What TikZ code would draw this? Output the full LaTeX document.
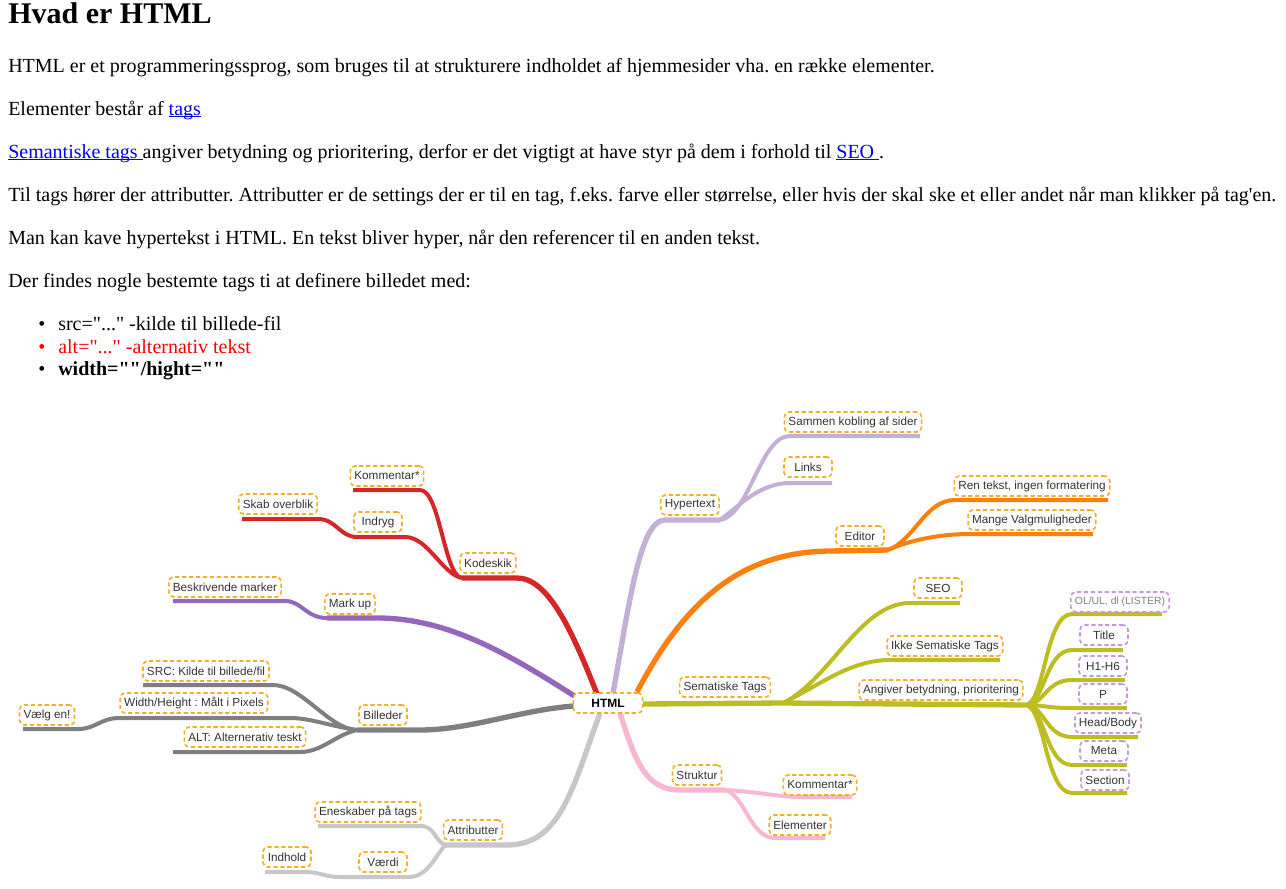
\documentclass[tikz,border=0pt]{standalone}
\usepackage{fontspec}
\setmainfont{Liberation Serif}[Ligatures=TeXOff]
\newfontfamily\mmfont{Liberation Sans}[Ligatures=TeXOff]
\definecolor{linkblue}{HTML}{0000EE}
\definecolor{altred}{HTML}{FF0000}
\definecolor{cRed}{HTML}{D62728}
\definecolor{cPurple}{HTML}{9467BD}
\definecolor{cLav}{HTML}{C5B0D5}
\definecolor{cOrange}{HTML}{FF7F0E}
\definecolor{cOlive}{HTML}{BCBD22}
\definecolor{cPink}{HTML}{F7B6D2}
\definecolor{cLGrey}{HTML}{C7C7C7}
\definecolor{cDGrey}{HTML}{7F7F7F}
\definecolor{gold}{HTML}{F0B028}
\definecolor{lilac}{HTML}{C49AD6}
\definecolor{lbltext}{HTML}{333333}
\newcommand\ulink[1]{\textcolor{linkblue}{\setbox0\hbox{#1}\rlap{\rule[-1.7pt]{\wd0}{0.8pt}}\box0}}
\begin{document}
\frenchspacing
\begin{tikzpicture}[x=0.75pt,y=-0.75pt,
  txt/.style={anchor=base west, inner sep=0pt, font=\fontsize{15}{18}\selectfont},
  lbl/.style={draw=gold, dash pattern=on 3.2pt off 2pt, line width=1.2pt, rounded corners=3.5pt,
    inner xsep=3pt, inner ysep=0pt, minimum height=15pt, minimum width=36pt,
    font=\mmfont\fontsize{8.8}{10}\selectfont, text=lbltext},
  plbl/.style={lbl, draw=lilac},
  mmain/.style={line width=4pt},
  mm/.style={line width=3pt}]
\useasboundingbox (0,0) rectangle (1286,889);

% ---------- page text ----------
\node[anchor=base west, inner sep=0pt, font=\bfseries\fontsize{22.5}{27}\selectfont] (h1) at (8,23) {Hvad er HTML};
\node[txt] (p1) at (8,72) {HTML er et programmeringssprog, som bruges til at strukturere indholdet af hjemmesider vha. en række elementer.};
\node[txt] (p2) at (8,115) {Elementer består af \ulink{tags}};
\node[txt] (p3) at (8,158) {\ulink{Semantiske tags }angiver betydning og prioritering, derfor er det vigtigt at have styr på dem i forhold til \ulink{SEO }.};
\node[txt] (p4) at (8,201) {Til tags hører der attributter. Attributter er de settings der er til en tag, f.eks. farve eller størrelse, eller hvis der skal ske et eller andet når man klikker på tag'en.};
\node[txt] (p5) at (8,244) {Man kan kave hypertekst i HTML. En tekst bliver hyper, når den referencer til en anden tekst.};
\node[txt] (p6) at (8,287) {Der findes nogle bestemte tags ti at definere billedet med:};
\node[anchor=base, inner sep=0pt, font=\fontsize{15}{18}\selectfont] (b1) at (42,330) {•};
\node[txt] (l1) at (58,330) {src="..." -kilde til billede-fil};
\node[anchor=base, inner sep=0pt, font=\fontsize{15}{18}\selectfont, text=altred] (b2) at (42,353) {•};
\node[txt, text=altred] (l2) at (58,353) {alt="..." -alternativ tekst};
\node[anchor=base, inner sep=0pt, font=\fontsize{15}{18}\selectfont] (b3) at (42,375) {•};
\node[txt, font=\bfseries\fontsize{15}{18}\selectfont] (l3) at (58,375) {width=""/hight=""};

% ---------- mind map: branch points ----------
\coordinate (kod) at (462,578);
\coordinate (ind) at (357,537);
\coordinate (mku) at (327,618);
\coordinate (bil) at (357,730);
\coordinate (wh) at (120,718);
\coordinate (att) at (445,845);
\coordinate (vae) at (340,877);
\coordinate (str) at (725,790);
\coordinate (hyp) at (720,520);
\coordinate (edi) at (888,550);
\coordinate (sem) at (783,703);
\coordinate (ang) at (1025,705);

% red: Kodeskik
\draw[mmain,cRed] (597,694) .. controls (572,630) and (548,578) .. (517,578) -- (kod);
\draw[mm,cRed] (kod) .. controls (444,576) and (440,490) .. (420,490) -- (353,490);
\draw[mm,cRed] (kod) .. controls (442,574) and (428,537) .. (405,537) -- (ind);
\draw[mm,cRed] (ind) .. controls (340,537) and (336,519) .. (318,519) -- (242,519);
% purple: Mark up
\draw[mmain,cPurple] (576,697) .. controls (510,655) and (450,619) .. (380,618) -- (mku);
\draw[mm,cPurple] (mku) .. controls (306,618) and (302,601) .. (285,601) -- (173,601);
% dark grey: Billeder
\draw[mmain,cDGrey] (574,706) .. controls (520,710) and (470,730) .. (420,730) -- (bil);
\draw[mm,cDGrey] (bil) .. controls (330,730) and (302,685) .. (273,685) -- (143,685);
\draw[mm,cDGrey] (bil) .. controls (330,726) and (310,718) .. (290,718) -- (wh);
\draw[mm,cDGrey] (wh) .. controls (100,718) and (96,729) .. (78,729) -- (23,729);
\draw[mm,cDGrey] (bil) .. controls (335,735) and (322,752) .. (300,752) -- (173,752);
% light grey: Attributter
\draw[mmain,cLGrey] (600,713) .. controls (572,790) and (560,845) .. (507,845) -- (att);
\draw[mm,cLGrey] (att) .. controls (434,840) and (435,826) .. (420,826) -- (318,826);
\draw[mm,cLGrey] (att) .. controls (432,862) and (426,877) .. (408,877) -- (vae);
\draw[mm,cLGrey] (vae) .. controls (325,877) and (320,872) .. (305,872) -- (265,872);
% pink: Struktur
\draw[mmain,cPink] (620,713) .. controls (635,760) and (645,790) .. (680,790) -- (str);
\draw[mm,cPink] (str) .. controls (760,792) and (780,797) .. (800,797) -- (852,797);
\draw[mm,cPink] (str) .. controls (745,795) and (750,838) .. (775,838) -- (825,838);
% lavender: Hypertext
\draw[mmain,cLav] (613,693) .. controls (630,600) and (640,520) .. (665,520) -- (hyp);
\draw[mm,cLav] (hyp) .. controls (750,515) and (760,436) .. (790,436) -- (920,436);
\draw[mm,cLav] (hyp) .. controls (740,505) and (760,483) .. (790,483) -- (832,483);
% orange: Editor
\draw[mmain,cOrange] (637,692) .. controls (690,590) and (750,552) .. (830,551) -- (edi);
\draw[mm,cOrange] (edi) .. controls (915,540) and (925,500) .. (955,500) -- (1108,500);
\draw[mm,cOrange] (edi) .. controls (910,540) and (940,534) .. (970,534) -- (1093,534);
% olive: Sematiske Tags
\draw[mmain,cOlive] (643,704) -- (sem) -- (ang);
\draw[mm,cOlive] (sem) .. controls (830,680) and (860,603) .. (910,603) -- (960,603);
\draw[mm,cOlive] (sem) .. controls (820,685) and (850,660) .. (890,660) -- (1000,660);
\foreach \yy/\xe in {614/1162,650/1123,680/1125,708/1127,737/1138,765/1127,793/1127}{
  \draw[mm,cOlive] (ang) .. controls (1045,705) and (1045,\yy) .. (1072,\yy) -- (\xe,\yy);
}

% ---------- labels ----------
\node[lbl, fill=white, font=\mmfont\bfseries\fontsize{9}{10}\selectfont, text=black, minimum width=52pt] (html) at (608,703) {HTML};
\node[lbl] (nkod) at (488,563) {Kodeskik};
\node[lbl] (nkom1) at (387,476) {Kommentar*};
\node[lbl] (nind) at (378,522) {Indryg};
\node[lbl] (nskab) at (278,504) {Skab overblik};
\node[lbl] (nmku) at (350,604) {Mark up};
\node[lbl] (nbes) at (225,587) {Beskrivende marker};
\node[lbl] (nbil) at (383,715) {Billeder};
\node[lbl] (nsrc) at (206,671) {SRC: Kilde til billede/fil};
\node[lbl] (nwh) at (194,703) {Width/Height : Målt i Pixels};
\node[lbl] (nalt) at (245,737) {ALT: Alternerativ teskt};
\node[lbl] (nvaelg) at (47,715) {Vælg en!};
\node[lbl] (natt) at (473,830) {Attributter};
\node[lbl] (nene) at (368,812) {Eneskaber på tags};
\node[lbl] (nvae) at (383,862) {Værdi};
\node[lbl] (nindh) at (287,857) {Indhold};
\node[lbl] (nstr) at (697,775) {Struktur};
\node[lbl] (nkom2) at (820,785) {Kommentar*};
\node[lbl] (nele) at (800,825) {Elementer};
\node[lbl] (nhyp) at (690,505) {Hypertext};
\node[lbl] (nsam) at (853,422) {Sammen kobling af sider};
\node[lbl] (nlink) at (808,467) {Links};
\node[lbl] (nedi) at (860,536) {Editor};
\node[lbl] (nren) at (1032,486) {Ren tekst, ingen formatering};
\node[lbl] (nman) at (1032,520) {Mange Valgmuligheder};
\node[lbl] (nsem) at (725,687) {Sematiske Tags};
\node[lbl] (nseo) at (938,588) {SEO};
\node[lbl] (nikke) at (945,646) {Ikke Sematiske Tags};
\node[lbl] (nang) at (941,690) {Angiver betydning, prioritering};
\node[plbl, text=gray, font=\mmfont\fontsize{7.8}{9}\selectfont] (nol) at (1120,602) {OL/UL, dl (LISTER)};
\node[plbl] (ntit) at (1104,635) {Title};
\node[plbl] (nh16) at (1103,666) {H1-H6};
\node[plbl] (np) at (1103,694) {P};
\node[plbl] (nhb) at (1108,723) {Head/Body};
\node[plbl] (nmeta) at (1104,751) {Meta};
\node[plbl] (nsec) at (1105,780) {Section};
\end{tikzpicture}
\end{document}
